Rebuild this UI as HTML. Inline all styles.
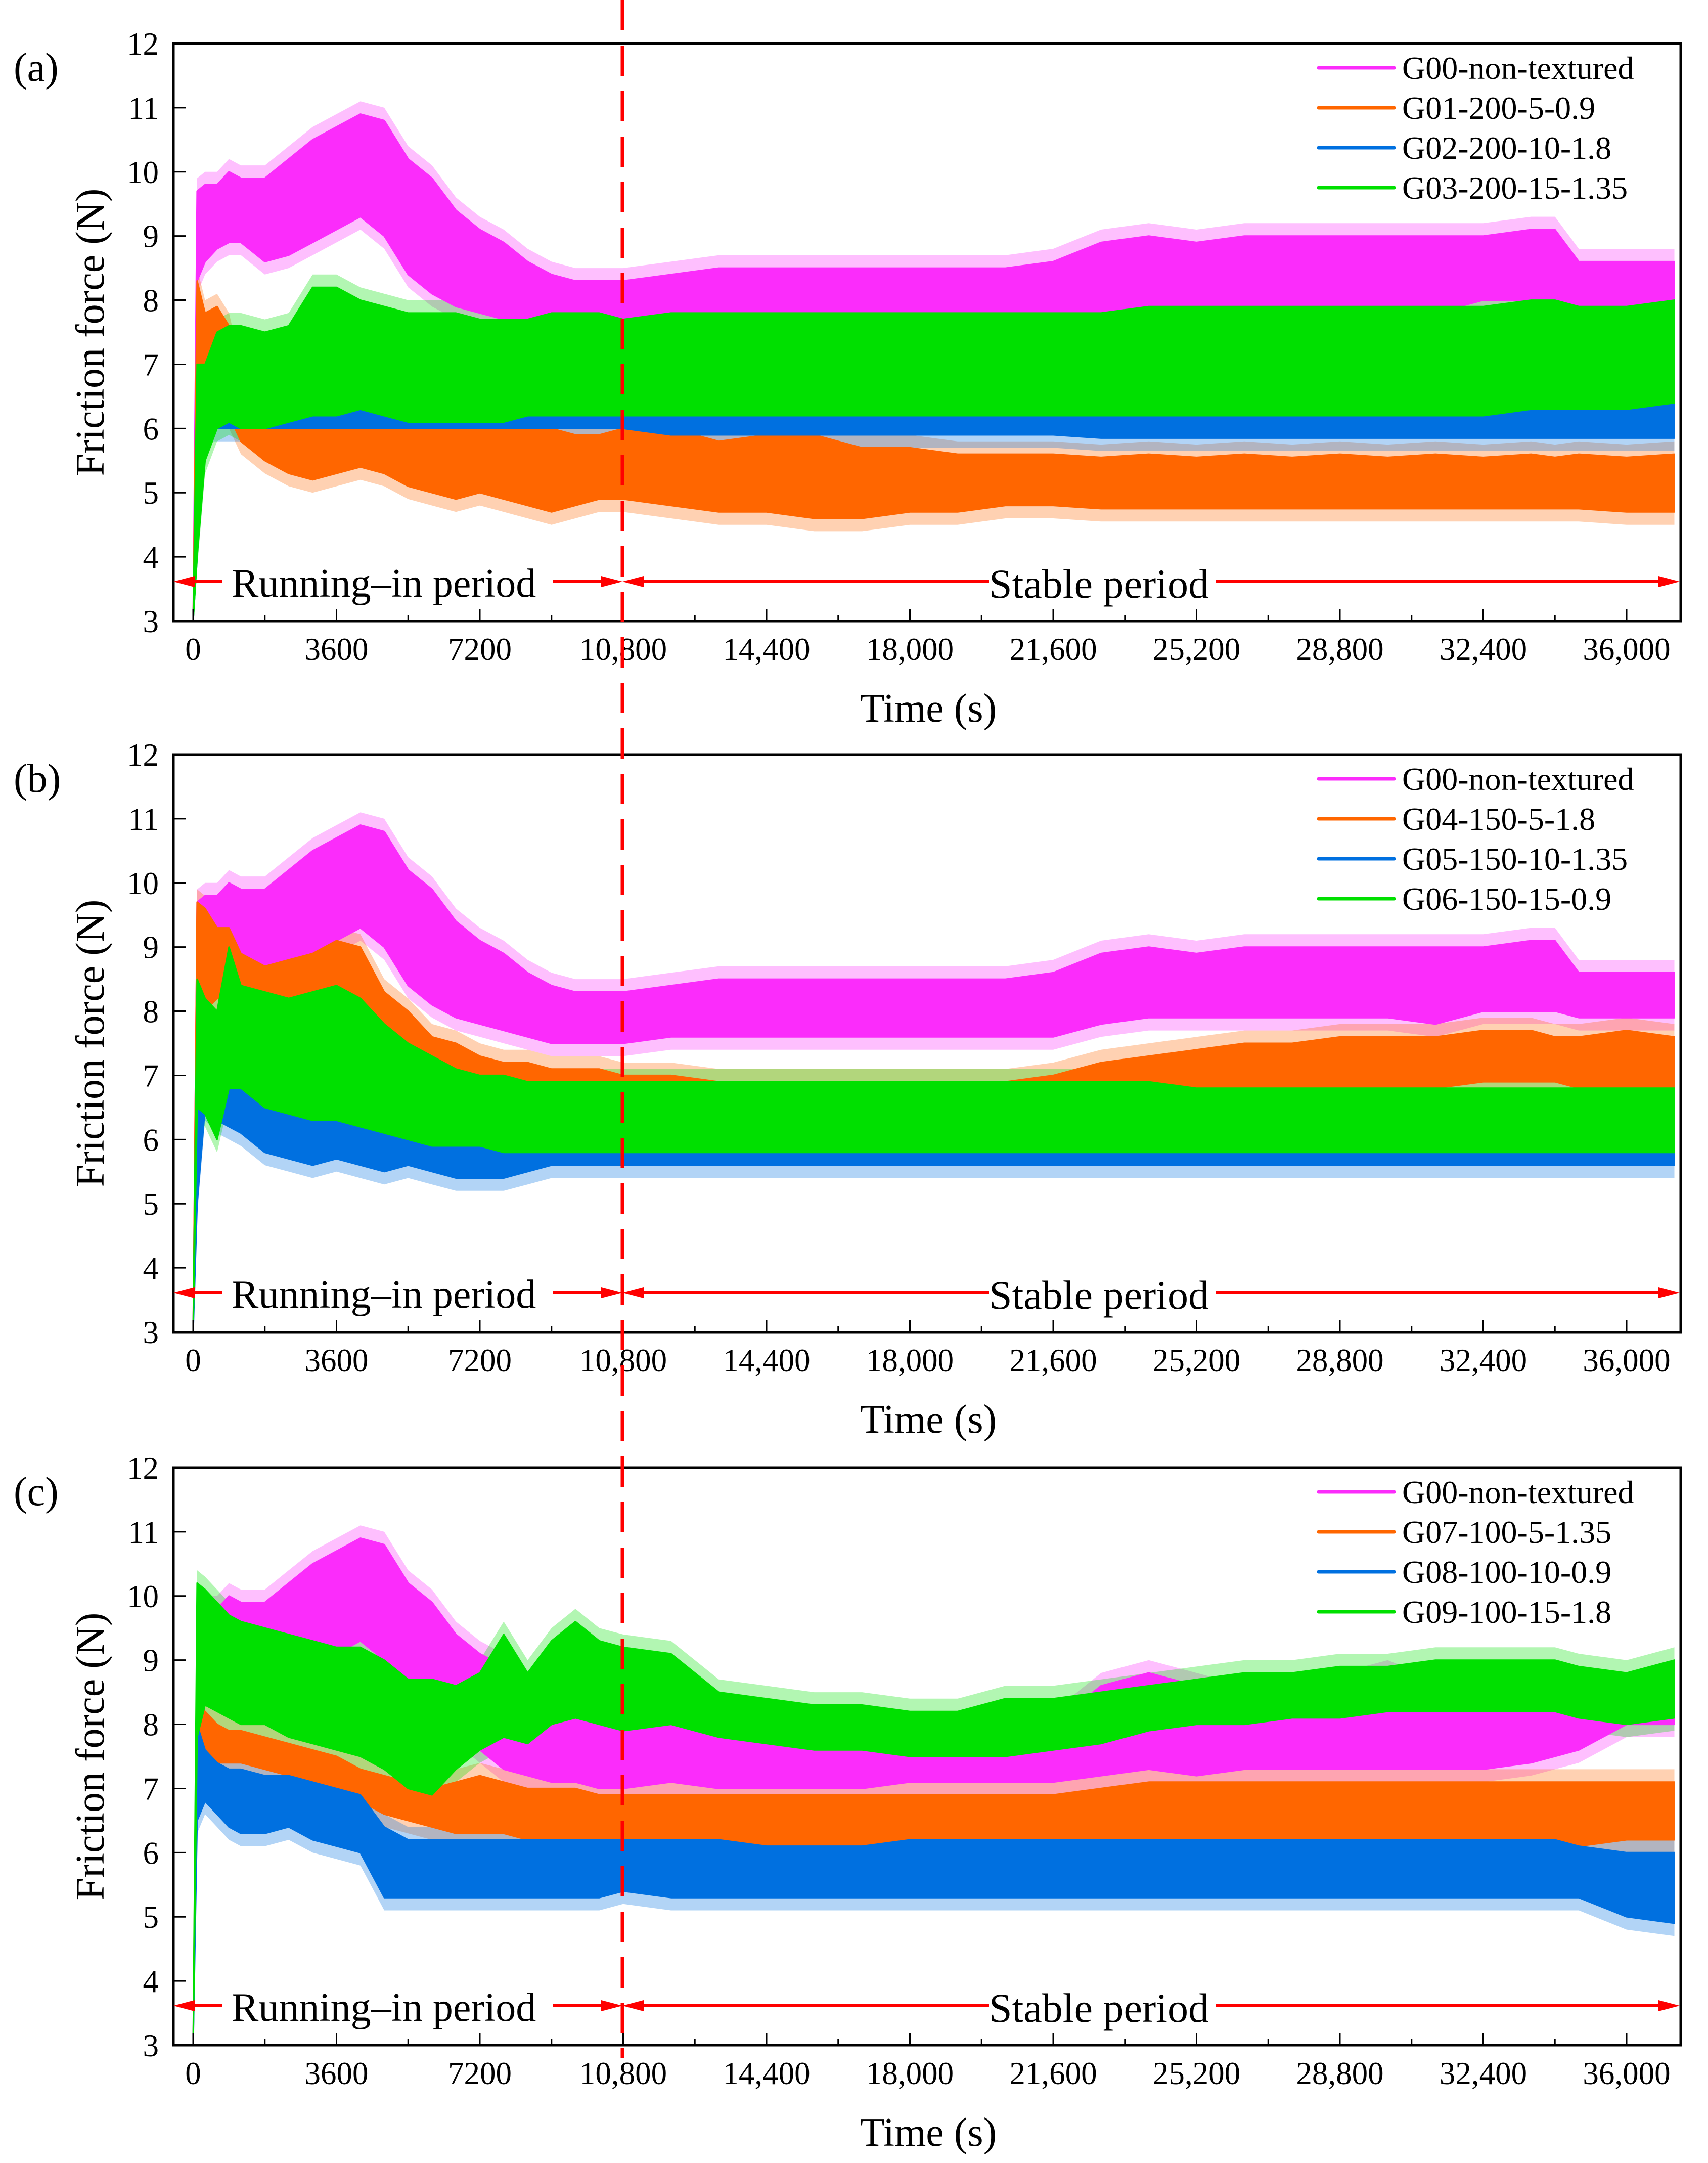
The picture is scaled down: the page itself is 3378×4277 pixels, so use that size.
<!DOCTYPE html>
<html><head><meta charset="utf-8"><style>
html,body{margin:0;padding:0;background:#fff;}
svg{display:block;font-family:"Liberation Serif","Times New Roman",serif;}
</style></head><body>
<svg id="chart" xmlns="http://www.w3.org/2000/svg" width="3378" height="4277" viewBox="0 0 3378 4277"></svg>
<script>
// shared time samples (s)
const times = [0,100,300,600,900,1200,1800,2400,3000,3600,4200,4800,5400,6000,6600,7200,7800,8400,9000,9600,10200,10800,12000,13200,14400,15600,16800,18000,19200,20400,21600,22800,24000,25200,26400,27600,28800,30000,31200,32400,33600,34200,34800,36000,37200];
const xTicks = [0,3600,7200,10800,14400,18000,21600,25200,28800,32400,36000];
const xTickLabels = ["0","3600","7200","10,800","14,400","18,000","21,600","25,200","28,800","32,400","36,000"];
const yTicks = [3,4,5,6,7,8,9,10,11,12];
const panelLabels = ["(a)","(b)","(c)"];

// G00 non-textured (panels a, b)
const g00Lo = [3,8.3,8.6,8.8,8.9,8.9,8.6,8.7,8.9,9.1,9.3,9.0,8.4,8.1,7.9,7.8,7.7,7.6,7.5,7.5,7.5,7.5,7.6,7.6,7.6,7.6,7.6,7.6,7.6,7.6,7.6,7.8,7.9,7.9,7.9,7.9,7.9,7.9,7.8,8.0,8.0,8.0,7.9,7.9,7.9];
const g00Hi = [3,9.7,9.8,9.8,10.0,9.9,9.9,10.2,10.5,10.7,10.9,10.8,10.2,9.9,9.4,9.1,8.9,8.6,8.4,8.3,8.3,8.3,8.4,8.5,8.5,8.5,8.5,8.5,8.5,8.5,8.6,8.9,9.0,8.9,9.0,9.0,9.0,9.0,9.0,9.0,9.1,9.1,8.6,8.6,8.6];
// G00 as plotted in panel c
const g00cLo = [3,8.3,8.6,8.8,8.9,8.9,8.6,8.7,8.9,9.1,9.3,9.0,8.4,8.1,7.9,7.6,7.3,7.2,7.1,7.1,7.0,7.0,7.1,7.0,7.0,7.0,7.0,7.1,7.1,7.1,7.1,7.2,7.3,7.2,7.3,7.3,7.3,7.3,7.3,7.3,7.4,7.5,7.6,8.0,8.0];
const g00cHi = [3,9.7,9.8,9.8,10.0,9.9,9.9,10.2,10.5,10.7,10.9,10.8,10.2,9.9,9.4,9.1,8.9,8.6,8.4,8.3,8.3,8.3,8.0,8.0,7.9,7.9,7.9,7.9,7.9,8.0,8.0,8.6,8.8,8.6,8.4,8.6,8.6,8.8,8.5,8.5,8.5,8.3,8.6,8.6,8.5];
// panel a
const g01Lo = [3,7.0,6.5,6.6,6.2,5.8,5.5,5.3,5.2,5.3,5.4,5.3,5.1,5.0,4.9,5.0,4.9,4.8,4.7,4.8,4.9,4.9,4.8,4.7,4.7,4.6,4.6,4.7,4.7,4.8,4.8,4.75,4.75,4.75,4.75,4.75,4.75,4.75,4.75,4.75,4.75,4.75,4.75,4.7,4.7];
const g01Hi = [3,8.3,7.8,7.9,7.6,6.8,6.3,6.3,6.3,6.4,6.3,6.3,6.2,6.2,6.0,6.0,6.0,6.0,6.0,5.9,5.9,6.0,6.0,5.8,5.9,5.9,5.7,5.7,5.6,5.6,5.6,5.55,5.6,5.55,5.6,5.55,5.6,5.55,5.6,5.55,5.6,5.55,5.6,5.55,5.6];
const g02Lo = [3,4.0,6.0,6.0,6.0,6.0,6.0,6.0,6.0,6.0,6.0,6.0,6.0,6.0,6.0,6.0,6.0,6.0,6.0,6.0,6.0,6.0,5.9,5.9,5.9,5.9,5.9,5.9,5.9,5.9,5.9,5.85,5.85,5.85,5.85,5.85,5.85,5.85,5.85,5.85,5.85,5.85,5.85,5.85,5.85];
const g02Hi = [3,6.5,6.8,6.8,6.8,6.8,6.8,6.8,6.9,6.9,6.8,6.8,6.8,6.8,6.8,6.8,6.8,6.8,6.8,6.8,6.8,6.8,6.8,6.8,6.8,6.8,6.8,6.8,6.8,6.8,6.8,6.8,6.8,6.8,6.8,6.8,6.8,6.8,6.8,6.8,6.8,6.8,6.8,6.8,6.8];
const g03Lo = [3,4.0,5.5,6.0,6.1,6.0,6.0,6.1,6.2,6.2,6.3,6.2,6.1,6.1,6.1,6.1,6.1,6.2,6.2,6.2,6.2,6.2,6.2,6.2,6.2,6.2,6.2,6.2,6.2,6.2,6.2,6.2,6.2,6.2,6.2,6.2,6.2,6.2,6.2,6.2,6.3,6.3,6.3,6.3,6.4];
const g03Hi = [3,7.0,7.0,7.5,7.6,7.6,7.5,7.6,8.2,8.2,8.0,7.9,7.8,7.8,7.8,7.7,7.7,7.7,7.8,7.8,7.8,7.7,7.8,7.8,7.8,7.8,7.8,7.8,7.8,7.8,7.8,7.8,7.9,7.9,7.9,7.9,7.9,7.9,7.9,7.9,8.0,8.0,7.9,7.9,8.0];
// panel b
const g04Lo = [3,7.5,8.0,8.2,8.2,8.0,7.9,8.0,8.1,8.1,7.9,7.6,7.3,6.9,6.9,6.8,6.7,6.6,6.6,6.6,6.5,6.5,6.4,6.4,6.4,6.4,6.4,6.4,6.4,6.4,6.5,6.6,6.7,6.7,6.7,6.8,6.8,6.8,6.8,6.9,6.9,6.9,6.8,6.8,6.7];
const g04Hi = [3,9.7,9.6,9.3,9.3,8.9,8.7,8.8,8.9,9.1,9.0,8.3,8.0,7.6,7.5,7.3,7.2,7.2,7.1,7.1,7.1,7.0,7.0,6.9,6.9,6.9,6.9,6.9,6.9,6.9,7.0,7.2,7.3,7.4,7.5,7.5,7.6,7.6,7.6,7.7,7.7,7.6,7.6,7.7,7.6];
const g05Lo = [3,5.0,6.5,6.3,6.2,6.1,5.8,5.7,5.6,5.7,5.6,5.5,5.6,5.5,5.4,5.4,5.4,5.5,5.6,5.6,5.6,5.6,5.6,5.6,5.6,5.6,5.6,5.6,5.6,5.6,5.6,5.6,5.6,5.6,5.6,5.6,5.6,5.6,5.6,5.6,5.6,5.6,5.6,5.6,5.6];
const g05Hi = [3,8.3,8.2,7.5,7.2,7.0,6.6,6.6,6.6,6.7,6.5,6.4,6.4,6.3,6.3,6.3,6.3,6.3,6.3,6.3,6.3,6.3,6.2,6.2,6.2,6.2,6.2,6.2,6.2,6.2,6.2,6.2,6.2,6.2,6.2,6.2,6.2,6.2,6.2,6.2,6.2,6.2,6.2,6.2,6.2];
const g06Lo = [3,6.5,6.4,6.0,6.8,6.8,6.5,6.4,6.3,6.3,6.2,6.1,6.0,5.9,5.9,5.9,5.8,5.8,5.8,5.8,5.8,5.8,5.8,5.8,5.8,5.8,5.8,5.8,5.8,5.8,5.8,5.8,5.8,5.8,5.8,5.8,5.8,5.8,5.8,5.8,5.8,5.8,5.8,5.8,5.8];
const g06Hi = [3,8.5,8.2,8.0,9.0,8.4,8.3,8.2,8.3,8.4,8.2,7.8,7.5,7.3,7.1,7.0,7.0,6.9,6.9,6.9,6.9,6.9,6.9,6.9,6.9,6.9,6.9,6.9,6.9,6.9,6.9,6.9,6.9,6.8,6.8,6.8,6.8,6.8,6.8,6.8,6.8,6.8,6.8,6.8,6.8];
// panel c
const g07Lo = [3,7.2,7.3,7.4,7.4,7.4,7.3,7.2,7.1,7.0,6.8,6.6,6.5,6.4,6.3,6.3,6.3,6.2,6.2,6.2,6.1,6.1,6.0,6.0,6.0,6.0,6.0,6.0,6.0,6.0,6.0,6.1,6.1,6.1,6.1,6.1,6.1,6.1,6.1,6.1,6.1,6.1,6.1,6.2,6.2];
const g07Hi = [3,8.3,8.2,8.0,7.9,7.9,7.8,7.7,7.6,7.5,7.3,7.2,7.1,7.0,7.1,7.2,7.1,7.0,7.0,7.0,6.9,6.9,6.9,6.9,6.9,6.9,6.9,6.9,6.9,6.9,6.9,7.0,7.1,7.1,7.1,7.1,7.1,7.1,7.1,7.1,7.1,7.1,7.1,7.1,7.1];
const g08Lo = [3,6.5,6.8,6.6,6.4,6.3,6.3,6.4,6.2,6.1,6.0,5.3,5.3,5.3,5.3,5.3,5.3,5.3,5.3,5.3,5.3,5.4,5.3,5.3,5.3,5.3,5.3,5.3,5.3,5.3,5.3,5.3,5.3,5.3,5.3,5.3,5.3,5.3,5.3,5.3,5.3,5.3,5.3,5.0,4.9];
const g08Hi = [3,8.0,7.6,7.4,7.3,7.3,7.2,7.2,7.1,7.0,6.9,6.4,6.2,6.2,6.2,6.2,6.2,6.2,6.2,6.2,6.2,6.2,6.2,6.2,6.1,6.1,6.1,6.2,6.2,6.2,6.2,6.2,6.2,6.2,6.2,6.2,6.2,6.2,6.2,6.2,6.2,6.2,6.1,6.0,6.0];
const g09Lo = [3,7.8,8.3,8.2,8.1,8.0,8.0,7.8,7.7,7.6,7.5,7.3,7.0,6.9,7.3,7.6,7.8,7.7,8.0,8.1,8.0,7.9,8.0,7.8,7.7,7.6,7.6,7.5,7.5,7.5,7.6,7.7,7.9,8.0,8.0,8.1,8.1,8.2,8.2,8.2,8.2,8.2,8.1,8.0,8.1];
const g09Hi = [3,10.2,10.1,9.9,9.7,9.6,9.5,9.4,9.3,9.2,9.2,9.0,8.7,8.7,8.6,8.8,9.4,8.8,9.3,9.6,9.3,9.2,9.1,8.5,8.4,8.3,8.3,8.2,8.2,8.4,8.4,8.5,8.6,8.7,8.8,8.8,8.9,8.9,9.0,9.0,9.0,9.0,8.9,8.8,9.0];

const COL = {m:"#fb2cfb", o:"#ff6600", b:"#0070e0", g:"#00e000"};
const panels = [
  {top:86, series:[
    {name:"G00-non-textured",lo:g00Lo,hi:g00Hi,c:COL.m},
    {name:"G01-200-5-0.9",lo:g01Lo,hi:g01Hi,c:COL.o},
    {name:"G02-200-10-1.8",lo:g02Lo,hi:g02Hi,c:COL.b},
    {name:"G03-200-15-1.35",lo:g03Lo,hi:g03Hi,c:COL.g}]},
  {top:1492, series:[
    {name:"G00-non-textured",lo:g00Lo,hi:g00Hi,c:COL.m},
    {name:"G04-150-5-1.8",lo:g04Lo,hi:g04Hi,c:COL.o},
    {name:"G05-150-10-1.35",lo:g05Lo,hi:g05Hi,c:COL.b},
    {name:"G06-150-15-0.9",lo:g06Lo,hi:g06Hi,c:COL.g}]},
  {top:2902, series:[
    {name:"G00-non-textured",lo:g00cLo,hi:g00cHi,c:COL.m},
    {name:"G07-100-5-1.35",lo:g07Lo,hi:g07Hi,c:COL.o},
    {name:"G08-100-10-0.9",lo:g08Lo,hi:g08Hi,c:COL.b},
    {name:"G09-100-15-1.8",lo:g09Lo,hi:g09Hi,c:COL.g}]}
];

const NS="http://www.w3.org/2000/svg";
const svg=document.getElementById('chart');
function mk(tag,attrs,parent){const e=document.createElementNS(NS,tag);for(const k in attrs)e.setAttribute(k,attrs[k]);(parent||svg).appendChild(e);return e;}
const PL=343, PR=3324, H=1142;
const xS=t=>382+t*0.07875;

panels.forEach((p,pi)=>{
  const top=p.top, bot=top+H;
  const yS=v=>bot-(v-3)/9*H;
  const g=mk('g',{});
  
  
  const cp=mk('clipPath',{id:'clip'+pi},g);
  mk('rect',{x:PL,y:top,width:PR-PL,height:H},cp);
  const dg=mk('g',{'clip-path':'url(#clip'+pi+')'},g);
  const band=(s,pad)=>{
    let pts=[];
    for(let i=0;i<times.length;i++)pts.push(xS(times[i]).toFixed(1)+','+yS(s.hi[i]+(i?pad:0)).toFixed(1));
    for(let i=times.length-1;i>=0;i--)pts.push(xS(times[i]).toFixed(1)+','+yS(s.lo[i]-(i?pad:0)).toFixed(1));
    return pts.join(' ');
  };
  // fringes first (behind all solid bands)
  p.series.forEach(s=>{
    const fringe=mk('polygon',{points:band(s,0.2),fill:s.c,'fill-opacity':0.3},dg);
    
    
  });
  p.series.forEach((s,si)=>{
    const poly=mk('polygon',{points:band(s,0),fill:s.c,stroke:s.c,'stroke-width':3,'stroke-linejoin':'round'},dg);
    
    
    const ly=top+48+si*79;
    const ll=mk('line',{x1:2608,x2:2757,y1:ly,y2:ly,stroke:s.c,'stroke-width':7,'stroke-linecap':'round'},g);
    
    
    const lt=mk('text',{x:2773,y:ly+22,'font-size':64},g);
    lt.textContent=s.name;
    
    
  });
  const fr=mk('rect',{x:PL,y:top,width:PR-PL,height:H,fill:'none',stroke:'#000','stroke-width':5},g);
  
  
  xTicks.forEach((t,i)=>{
    mk('line',{x1:xS(t),x2:xS(t),y1:bot,y2:bot-24,stroke:'#000','stroke-width':3},g);
    const mt=t+1800; if(xS(mt)<PR) mk('line',{x1:xS(mt),x2:xS(mt),y1:bot,y2:bot-12,stroke:'#000','stroke-width':3},g);
    const tx=mk('text',{x:xS(t),y:bot+77,'font-size':63,'text-anchor':'middle'},g);
    tx.textContent=xTickLabels[i];
    
    
  });
  yTicks.forEach(v=>{
    mk('line',{x1:PL,x2:PL+24,y1:yS(v),y2:yS(v),stroke:'#000','stroke-width':3},g);
    const ty=mk('text',{x:314,y:yS(v)+22,'font-size':63,'text-anchor':'end'},g);
    ty.textContent=String(v);
    
    
  });
  const yt=mk('text',{x:0,y:0,'font-size':80,'text-anchor':'middle',transform:'translate(205,'+(top+H/2)+') rotate(-90)'},g);
  yt.textContent='Friction force (N)';
  
  
  const xt=mk('text',{x:1836,y:bot+199,'font-size':80,'text-anchor':'middle'},g);
  xt.textContent='Time (s)';
  
  
  const pl=mk('text',{x:27,y:top+74,'font-size':80},g);
  pl.textContent=panelLabels[pi];
  
  
  const ay=bot-78, R='#ff0000';
  const ann=mk('g',{},g);
  
  
  mk('line',{x1:PL+40,x2:439,y1:ay,y2:ay,stroke:R,'stroke-width':6},ann);
  mk('polygon',{points:`${PL},${ay} ${PL+42},${ay-11} ${PL+42},${ay+11}`,fill:R},ann);
  mk('line',{x1:1094,x2:1195,y1:ay,y2:ay,stroke:R,'stroke-width':6},ann);
  mk('polygon',{points:`1231,${ay} 1189,${ay-11} 1189,${ay+11}`,fill:R},ann);
  mk('polygon',{points:`1231,${ay} 1273,${ay-11} 1273,${ay+11}`,fill:R},ann);
  mk('line',{x1:1265,x2:1956,y1:ay,y2:ay,stroke:R,'stroke-width':6},ann);
  mk('line',{x1:2404,x2:PR-40,y1:ay,y2:ay,stroke:R,'stroke-width':6},ann);
  mk('polygon',{points:`${PR-2},${ay} ${PR-44},${ay-11} ${PR-44},${ay+11}`,fill:R},ann);
  const rt=mk('text',{x:458,y:bot-48,'font-size':80},ann);
  rt.textContent='Running–in period';
  
  
  const st=mk('text',{x:1956,y:bot-46,'font-size':82},ann);
  st.textContent='Stable period';
  
  
});
const dl=mk('line',{x1:1231,x2:1231,y1:0,y2:4069,stroke:'#ff0000','stroke-width':7,'stroke-dasharray':'60 30'});


</script>
</body></html>
